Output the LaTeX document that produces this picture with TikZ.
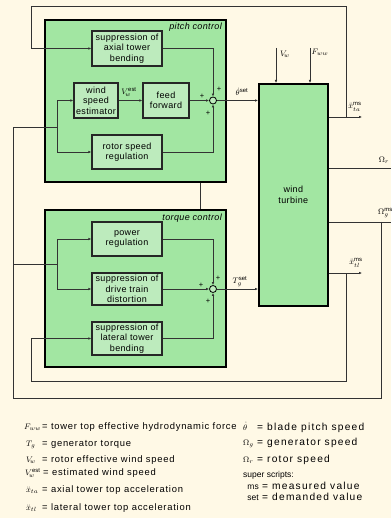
\documentclass[tikz,border=0pt]{standalone}
\usepackage{fontspec}
\setmainfont{Liberation Sans}
\newfontfamily\blkfam[LetterSpace=4]{Liberation Sans}
\newfontfamily\lgfam[LetterSpace=8]{Liberation Sans}
\newfontfamily\lgrfam[LetterSpace=12]{Liberation Sans}
\usetikzlibrary{arrows.meta}
\definecolor{cream}{HTML}{FFF9E6}
\definecolor{boxgreen}{HTML}{A2E6A2}
\definecolor{blkgreen}{HTML}{BDEBBD}
\newcommand{\blkfont}{\blkfam\fontsize{9}{10.5}\selectfont}
\newcommand{\lgfont}{\lgfam\fontsize{9.4}{10}\selectfont}
\newcommand{\lgrfont}{\lgrfam\fontsize{10.2}{10}\selectfont}
\newcommand{\smfont}{\fontsize{8.5}{9}\selectfont}
\begin{document}
\begin{tikzpicture}[x=1pt,y=-1pt,
  ctrl/.style={draw=black, line width=1.6pt, fill=boxgreen, inner sep=0pt},
  blk/.style={draw=black!85, line width=1.3pt, fill=blkgreen, align=center, inner sep=0pt, font=\blkfont, minimum width=70pt},
  sumj/.style={circle, draw=black, line width=0.8pt, fill=blkgreen, minimum size=7pt, inner sep=0pt},
  sig/.style={line width=0.6pt, draw=black!80},
  arr/.style={sig, -{Latex[length=3pt,width=2.6pt]}},
  lbl/.style={font=\smfont, inner sep=0pt},
  pls/.style={font=\fontsize{7.5}{7.5}\selectfont, inner sep=0pt},
  lg/.style={font=\lgfont, inner sep=0pt, anchor=base west},
  lgr/.style={font=\lgrfont, inner sep=0pt, anchor=base west},
  lgs/.style={font=\fontsize{8.5}{9}\selectfont, inner sep=0pt, anchor=base west},
]
\fill[cream] (0,0) rectangle (391,518);
\useasboundingbox (0,0) rectangle (391,518);

% control boxes
\node[ctrl, anchor=north west, minimum width=181pt, minimum height=162pt] (pitch) at (44,19) {};
\node[ctrl, anchor=north west, minimum width=181pt, minimum height=157pt] (torque) at (44,209) {};
\node[ctrl, anchor=north west, minimum width=69pt, minimum height=222pt, align=center, font=\blkfont] (turb) at (258,83) {wind\\turbine};
\node[font=\blkfont\itshape, anchor=base east, inner sep=0pt] (plbl) at (222,30) {pitch control};
\node[font=\blkfont\itshape, anchor=base east, inner sep=0pt] (tlbl) at (222,221) {torque control};

% pitch blocks
\node[blk, minimum height=35pt] (sat) at (127,48.5) {suppression of\\axial tower\\bending};
\node[blk, minimum width=44pt, minimum height=35pt] (wse) at (96,100.5) {wind\\speed\\estimator};
\node[blk, minimum width=46pt, minimum height=35pt] (ff) at (166,100.5) {feed\\forward};
\node[blk, minimum height=34pt] (rsr) at (127,152) {rotor speed\\regulation};
\node[sumj] (sp) at (213,100.5) {};

% torque blocks
\node[blk, minimum height=34pt] (pr) at (127,239) {power\\regulation};
\node[blk, minimum height=32pt] (sdt) at (127,289) {suppression of\\drive train\\distortion};
\node[blk, minimum height=33pt] (slt) at (127,338.5) {suppression of\\lateral tower\\bending};
\node[sumj] (st) at (213,289) {};

% pitch internal connections
\draw[arr] (wse) -- (ff);
\draw[arr] (ff) -- (sp);
\draw[arr] (sat.east) -| (sp.north);
\draw[arr] (rsr.east) -| (sp.south);
\draw[arr] (sp.east) -- (sp.east -| turb.west);

% torque internal connections
\draw[arr] (pr.east) -| (st.north);
\draw[arr] (sdt.east) -- (st.west);
\draw[arr] (slt.east) -| (st.south);
\draw[arr] (st.east) -- (st.east -| turb.west);

% link between control boxes
\coordinate (lk) at (200,0);
\draw[sig, line width=1pt] (pitch.south -| lk) -- (torque.north -| lk);

% turbine inputs
\coordinate (vw) at (276,48);
\coordinate (fw) at (310,48);
\draw[arr] (vw) -- (vw |- turb.north);
\draw[arr] (fw) -- (fw |- turb.north);

% turbine outputs
\coordinate (xax) at (362,117);
\coordinate (xtl) at (362,273);
\coordinate (wr) at (391,168);
\coordinate (wg) at (391,222);
\draw[arr] (turb.east |- xax) -- (xax);
\draw[arr] (turb.east |- xtl) -- (xtl);
\draw[sig] (turb.east |- wr) -- (wr);
\draw[sig] (turb.east |- wg) -- (wg);

% axial feedback
\coordinate (xaxb) at (346,117);
\coordinate (topL) at (31,6);
\draw[arr] (xaxb) |- (topL) |- (sat.west);

% lateral feedback
\coordinate (xtlb) at (346,273);
\coordinate (botL) at (31,381);
\draw[arr] (xtlb) |- (botL) |- (slt.west);

% generator speed feedback
\coordinate (wgb) at (381,222);
\coordinate (fbL) at (13,398);
\coordinate (fbTop) at (13,127);
\coordinate (pj) at (57,127);
\coordinate (tj) at (57,264);
\draw[sig] (wgb) |- (fbL) -- (fbTop) -- (pj);
\draw[sig] (fbL |- tj) -- (tj);
\draw[arr] (pj) |- (wse.west);
\draw[arr] (pj) |- (rsr.west);
\draw[arr] (tj) |- (pr.west);
\draw[arr] (tj) |- (sdt.west);

% signal labels
\node[lbl] (lvw) at (285,54) {$V_{\!w}$};
\node[lbl] (lfw) at (320,52) {$F_{ww}$};
\node[lbl] (lvest) at (129,92) {$V_{\!w}^{\mathrm{est}}$};
\node[lbl] (lth) at (242,92) {$\dot\theta^{\mathrm{set}}$};
\node[lbl] (ltg) at (240,282) {$T_g^{\mathrm{set}}$};
\node[lbl] (lxax) at (355,107) {$\ddot x_{ta}^{\mathrm{ms}}$};
\node[lbl] (lxtl) at (356,263) {$\ddot x_{tl}^{\mathrm{ms}}$};
\node[lbl] (lwr) at (384,160) {$\Omega_r$};
\node[lbl, anchor=west] (lwg) at (378,213) {$\Omega_g^{\mathrm{ms}}$};

% plus signs
\node[pls] (p1) at (202,96) {+};
\node[pls] (p2) at (219,89) {+};
\node[pls] (p3) at (208,113) {+};
\node[pls] (p4) at (201,285) {+};
\node[pls] (p5) at (218,278) {+};
\node[pls] (p6) at (208,301) {+};

% legend left
\node[lgs] (s1) at (24,429) {$F_{ww}$};
\node[lg] (e1) at (42,429) {= tower top effective hydrodynamic force};
\node[lgs] (s2) at (26,446) {$T_g$};
\node[lg] (e2) at (42,446) {= generator torque};
\node[lgs] (s3) at (26,462) {$V_{\!w}$};
\node[lg] (e3) at (42,462) {= rotor effective wind speed};
\node[lgs] (s4) at (25,475) {$V_{\!w}^{\mathrm{est}}$};
\node[lg] (e4) at (43,475) {= estimated wind speed};
\node[lgs] (s5) at (26,492) {$\ddot x_{ta}$};
\node[lg] (e5) at (42,492) {= axial tower top acceleration};
\node[lgs] (s6) at (26,510) {$\ddot x_{tl}$};
\node[lg] (e6) at (42,510) {= lateral tower top acceleration};

% legend right
\node[lgs] (s7) at (243,430) {$\dot\theta$};
\node[lgr] (e7) at (257,430) {= blade pitch speed};
\node[lgs] (s8) at (243,445) {$\Omega_g$};
\node[lgr] (e8) at (257,445) {= generator speed};
\node[lgs] (s9) at (243,462) {$\Omega_r$};
\node[lgr] (e9) at (257,462) {= rotor speed};
\node[lgs] (sup) at (243,477) {super scripts:};
\node[lgs, anchor=base east] (s10) at (259,489) {ms};
\node[lgr] (e10) at (262,489) {= measured value};
\node[lgs, anchor=base east] (s11) at (259,500) {set};
\node[lgr] (e11) at (262,500) {= demanded value};
\end{tikzpicture}
\end{document}
